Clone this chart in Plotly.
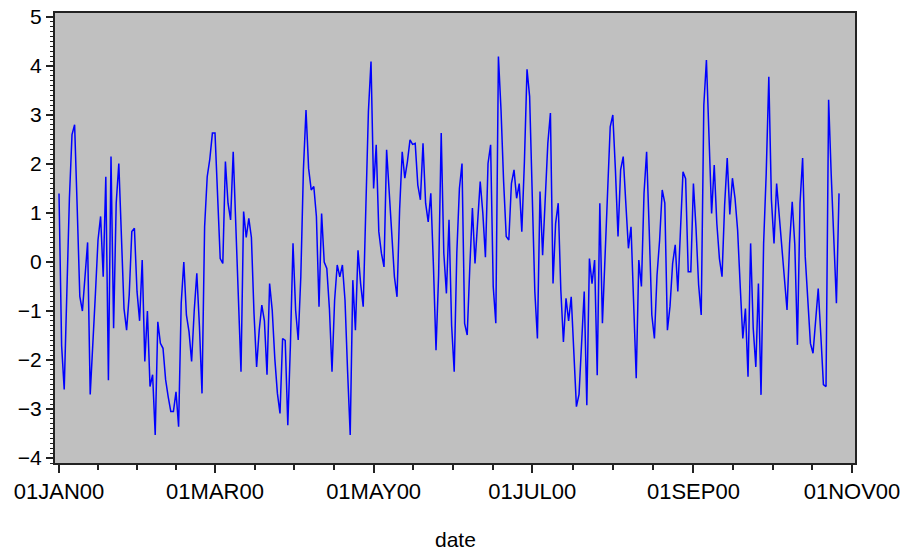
import pandas as pd
import plotly.graph_objects as go

# Daily values (01JAN2000 onwards)
seg1 = [1.40, -1.70, -2.60, -0.40, 1.30, 2.60, 2.80, 1.10, -0.70, -1.00,
        -0.30, 0.40, -2.70, -1.75, -0.65, 0.45, 0.93, -0.30, 1.74, -2.41,
        2.15, -1.35, 1.20, 2.01, 0.40, -0.95, -1.39, -0.67, 0.62, 0.69,
        -0.60, -1.20, 0.04, -2.03, -1.00, -2.54, -2.30, -3.53]
seg2 = [-1.22, -1.66, -1.76, -2.40, -2.75, -3.05, -3.05, -2.65, -3.36, -0.84,
        0.00, -1.08, -1.42, -2.03, -1.00, -0.23, -1.30, -2.68, 0.72, 1.74,
        2.10, 2.63, 2.63, 1.40, 0.07, -0.03, 2.05, 1.20, 0.86, 2.25,
        0.86, -0.50, -2.24, 1.03, 0.50, 0.89, 0.50, -1.05, -2.14]
seg3 = [-1.39, -0.88, -1.20, -2.30, -0.44, -0.98, -1.97, -2.68, -3.09, -1.56,
        -1.60, -3.33, -1.69, 0.38, -0.98, -1.59, -0.30, 1.88, 3.10, 1.91,
        1.47, 1.54, 0.93, -0.91, 0.99, 0.00, -0.13, -0.95, -2.24, -0.78,
        -0.06, -0.30, -0.06, -0.78, -2.24, -3.53, -0.37, -1.39, 0.24]
seg4 = [-0.44, -0.91, 1.06, 3.07, 4.09, 1.50, 2.39, 0.62, 0.18, -0.10,
        2.29, 1.40, 0.35, -0.30, -0.71, 1.06, 2.25, 1.71, 2.05, 2.49,
        2.40, 2.42, 1.57, 1.27, 2.42, 1.20, 0.82, 1.40, -0.06, -1.80,
        -0.27, 2.63, 0.18, -0.64, 0.86, -1.29, -2.24, 0.18, 1.50]
seg5 = [2.01, -1.25, -1.49, -0.10, 1.10, -0.03, 0.86, 1.64, 1.00, 0.10,
        2.01, 2.39, -0.50, -1.25, 4.19, 3.10, 1.64, 0.52, 0.45, 1.60,
        1.88, 1.30, 1.60, 0.62, 2.05, 3.93, 3.38, 1.13, -0.60, -1.56,
        1.44, 0.14, 1.30, 2.42, 3.04, -0.44, 0.79, 1.20]
seg6 = [-0.57, -1.63, -0.74, -1.20, -0.71, -1.69, -2.95, -2.70, -1.56, -0.60,
        -2.92, 0.07, -0.44, 0.04, -2.31, 1.20, -1.25, -0.06, 1.44, 2.76,
        3.00, 1.88, 0.52, 1.88, 2.15, 1.20, 0.28, 0.72, -0.98, -2.37,
        0.04, -0.50, 1.40, 2.25, 0.65, -1.08, -1.56, -0.27, 0.45]
seg7 = [1.47, 1.20, -1.39, -0.90, -0.03, 0.35, -0.60, 0.62, 1.84, 1.70,
        -0.20, -0.20, 1.60, 0.69, -0.47, -1.08, 3.20, 4.12, 2.49, 0.99,
        1.98, 0.79, 0.07, -0.30, 1.16, 2.12, 0.97, 1.71, 1.30, 0.65,
        -0.50, -1.56, -0.95, -2.34, 0.38, -1.35, -2.14, -0.44, -2.71]
seg8 = [0.38, 1.81, 3.78, 1.27, 0.38, 1.60, 0.99, 0.28, -0.37, -0.98,
        0.38, 1.23, 0.35, -1.69, 1.20, 2.12, 0.11, -0.81, -1.66, -1.86,
        -1.20, -0.54, -1.49, -2.50, -2.54, 3.31, 1.78, 0.45, -0.84, 1.40]

values = seg1 + seg2 + seg3 + seg4 + seg5 + seg6 + seg7 + seg8
dates = pd.date_range("2000-01-01", periods=len(values), freq="D")

major_dates = pd.to_datetime(["2000-01-01", "2000-03-01", "2000-05-01",
                              "2000-07-01", "2000-09-01", "2000-11-01"])
major_labels = ["01JAN00", "01MAR00", "01MAY00", "01JUL00", "01SEP00", "01NOV00"]
y_ticks = [-4, -3, -2, -1, 0, 1, 2, 3, 4, 5]

minor_dates = []
for a, b in zip(major_dates[:-1], major_dates[1:]):
    for f in (0.25, 0.5, 0.75):
        minor_dates.append(a + (b - a) * f)

fig = go.Figure()
fig.add_trace(go.Scatter(x=dates, y=values, mode="lines",
                         line=dict(color="#0000FF", width=1.5),
                         showlegend=False, hoverinfo="skip"))

font_family = "Liberation Sans, Arial, sans-serif"
fig.update_layout(
    width=904, height=550,
    margin=dict(l=55, r=49, t=13, b=87),
    paper_bgcolor="white",
    plot_bgcolor="#C0C0C0",
    font=dict(family=font_family, color="black", size=19),
    xaxis=dict(
        type="date", automargin=False,
        range=["1999-12-30 11:00", "2000-11-02 03:30"],
        tickmode="array", tickvals=major_dates, ticktext=major_labels,
        ticks="outside", ticklen=8, tickwidth=1.5, tickcolor="#222",
        tickfont=dict(size=22, family=font_family),
        showgrid=False, zeroline=False,
        showline=True, linecolor="#222", linewidth=2, mirror=True,
        minor=dict(tickmode="array", tickvals=minor_dates, ticks="outside",
                   ticklen=5, tickwidth=1.5, tickcolor="#222", showgrid=False),
    ),
    yaxis=dict(
        range=[-4.10, 5.08], automargin=False,
        tickmode="array", tickvals=y_ticks,
        ticks="outside", ticklen=7, tickwidth=1.5, tickcolor="#222",
        tickfont=dict(size=21, family=font_family),
        showgrid=False, zeroline=False,
        showline=True, linecolor="#222", linewidth=2, mirror=True,
        minor=dict(dtick=0.1, ticks="outside", ticklen=3.5, tickwidth=1,
                   tickcolor="#222", showgrid=False),
    ),
    annotations=[dict(text="date", xref="paper", yref="paper",
                      x=0.5, y=-0.171, xanchor="center", yanchor="middle",
                      showarrow=False, font=dict(size=21, family=font_family))],
)

fig.write_html("out.html")
